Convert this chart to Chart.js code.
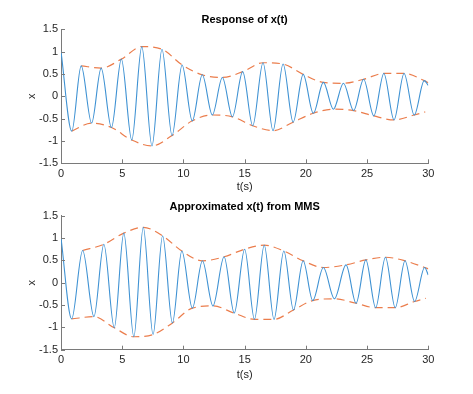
<!DOCTYPE html>
<html>
<head>
<meta charset="utf-8">
<script src="https://cdn.jsdelivr.net/npm/chart.js@4"></script>
<style>
  html, body { margin:0; padding:0; background:#fff; }
  #wrap { position:relative; width:473px; height:394px; }
  .pane { position:absolute; left:0; width:473px; height:197px; }
</style>
</head>
<body>
<div id="wrap">
  <div class="pane" style="top:0"><canvas id="c1" width="473" height="197"></canvas></div>
  <div class="pane" style="top:197px"><canvas id="c2" width="473" height="197"></canvas></div>
</div>
<script>
// ---------- data ----------
const xTickValues = [0, 5, 10, 15, 20, 25, 30];
const xTickLabels = ['0', '5', '10', '15', '20', '25', '30'];
const yTickValues = [-1.5, -1, -0.5, 0, 0.5, 1, 1.5];
const yTickLabels = ['-1.5', '-1', '-0.5', '0', '0.5', '1', '1.5'];

// Top plot: Response of x(t) — successive peaks and troughs (t, x)
const topT = [0, 0.88, 1.65, 2.5, 3.28, 4.12, 4.93, 5.78, 6.6, 7.43, 8.25, 9.07, 9.89, 10.72, 11.54, 12.36, 13.18, 14.0, 14.84, 15.66, 16.5, 17.32, 18.14, 18.96, 19.78, 20.61, 21.43, 22.25, 23.07, 23.9, 24.72, 25.55, 26.37, 27.2, 28.02, 28.85, 29.67, 30];
const topX = [1.00, -0.78, 0.68, -0.60, 0.63, -0.70, 0.83, -0.98, 1.11, -1.11, 1.05, -0.88, 0.70, -0.55, 0.48, -0.42, 0.42, -0.46, 0.55, -0.66, 0.75, -0.77, 0.72, -0.58, 0.49, -0.38, 0.31, -0.29, 0.29, -0.32, 0.38, -0.44, 0.51, -0.53, 0.51, -0.42, 0.35, 0.24];
const topUpperT = [1.65, 3.28, 4.93, 6.6, 8.25, 9.89, 11.54, 13.18, 14.84, 16.5, 18.14, 19.78, 21.43, 23.07, 24.72, 26.37, 28.02, 29.67, 30];
const topUpperX = [0.68, 0.63, 0.83, 1.11, 1.05, 0.70, 0.48, 0.42, 0.55, 0.75, 0.72, 0.49, 0.31, 0.29, 0.38, 0.51, 0.51, 0.35, 0.30];
const topLowerT = [0.88, 2.5, 4.12, 5.78, 7.43, 9.07, 10.72, 12.36, 14.0, 15.66, 17.32, 18.96, 20.61, 22.25, 23.9, 25.55, 27.2, 28.85, 29.75];
const topLowerX = [-0.78, -0.60, -0.70, -0.98, -1.11, -0.88, -0.55, -0.42, -0.46, -0.66, -0.77, -0.58, -0.38, -0.29, -0.32, -0.44, -0.53, -0.42, -0.35];

// Bottom plot: Approximated x(t) from MMS — successive peaks and troughs (t, x)
const botT = [0, 0.87, 1.77, 2.69, 3.5, 4.35, 5.13, 5.95, 6.72, 7.52, 8.3, 9.1, 9.87, 10.73, 11.55, 12.41, 13.32, 14.15, 15.0, 15.8, 16.6, 17.4, 18.2, 18.99, 19.78, 20.56, 21.43, 22.33, 23.28, 24.1, 24.9, 25.7, 26.5, 27.3, 28.1, 28.88, 29.7, 30];
const botX = [1.00, -0.81, 0.72, -0.76, 0.86, -1.01, 1.11, -1.21, 1.24, -1.16, 1.05, -0.90, 0.71, -0.57, 0.49, -0.52, 0.58, -0.68, 0.75, -0.82, 0.84, -0.82, 0.71, -0.61, 0.49, -0.40, 0.34, -0.36, 0.40, -0.46, 0.51, -0.56, 0.57, -0.56, 0.49, -0.42, 0.34, 0.17];
const botUpperT = [1.77, 3.5, 5.13, 6.72, 8.3, 9.87, 11.55, 13.32, 15.0, 16.6, 18.2, 19.78, 21.43, 23.28, 24.9, 26.5, 28.1, 29.7, 30];
const botUpperX = [0.72, 0.86, 1.11, 1.24, 1.05, 0.71, 0.49, 0.58, 0.75, 0.84, 0.71, 0.49, 0.34, 0.40, 0.51, 0.57, 0.49, 0.34, 0.31];
const botLowerT = [0.87, 2.69, 4.35, 5.95, 7.52, 9.1, 10.73, 12.41, 14.15, 15.8, 17.4, 18.99, 20.56, 22.33, 24.1, 25.7, 27.3, 28.88, 29.8];
const botLowerX = [-0.81, -0.76, -1.01, -1.21, -1.16, -0.90, -0.57, -0.52, -0.68, -0.82, -0.82, -0.61, -0.40, -0.36, -0.46, -0.56, -0.56, -0.42, -0.35];

// ---------- helpers ----------
function pts(ts, xs) { return ts.map((t, i) => ({ x: t, y: xs[i] })); }

const innerTicks = {
  id: 'innerTicks',
  afterDraw(chart) {
    const { ctx, chartArea: a, scales: { x, y } } = chart;
    ctx.save();
    ctx.strokeStyle = '#7a7a7a';
    ctx.lineWidth = 1;
    ctx.beginPath();
    x.ticks.forEach(t => {
      const px = Math.round(x.getPixelForValue(t.value)) + 0.5;
      ctx.moveTo(px, a.bottom); ctx.lineTo(px, a.bottom - 4);
    });
    y.ticks.forEach(t => {
      const py = Math.round(y.getPixelForValue(t.value)) + 0.5;
      ctx.moveTo(a.left, py); ctx.lineTo(a.left + 4, py);
    });
    ctx.stroke();
    ctx.restore();
  }
};

const FONT = "'Liberation Sans', Arial, Helvetica, sans-serif";
const BLUE = '#3f92d3';
const ORANGE = '#eb7d4c';

function makeChart(id, title, sig, up, lo, cfg) {
  return new Chart(document.getElementById(id), {
    type: 'line',
    data: {
      datasets: [
        { data: sig, borderColor: BLUE, borderWidth: 1.1, pointRadius: 0, cubicInterpolationMode: 'monotone' },
        { data: up, borderColor: ORANGE, borderWidth: 1.2, borderDash: [8, 5], pointRadius: 0, cubicInterpolationMode: 'monotone' },
        { data: lo, borderColor: ORANGE, borderWidth: 1.2, borderDash: [8, 5], pointRadius: 0, cubicInterpolationMode: 'monotone' }
      ]
    },
    options: {
      responsive: false,
      animation: false,
      events: [],
      layout: { padding: { left: 0, right: 44.7, top: 0, bottom: 0 } },
      plugins: {
        legend: { display: false },
        tooltip: { enabled: false },
        title: {
          display: true, text: title, fullSize: false, color: '#000',
          font: { family: FONT, size: 11, weight: 'bold', lineHeight: 1.2 },
          padding: { top: cfg.titleTop, bottom: cfg.titleBottom }
        }
      },
      scales: {
        x: {
          type: 'linear', min: 0, max: 30,
          afterBuildTicks: s => { s.ticks = xTickValues.map(v => ({ value: v })); },
          afterFit: s => { s.height = cfg.xHeight; },
          grid: { display: false, drawTicks: false },
          border: { display: true, color: '#7a7a7a', width: 1 },
          ticks: {
            color: '#262626', padding: 4, maxRotation: 0,
            font: { family: FONT, size: 11 },
            callback: (v) => xTickLabels[xTickValues.indexOf(v)]
          },
          title: {
            display: true, text: 't(s)', color: '#262626',
            font: { family: FONT, size: 11, lineHeight: 1.2 },
            padding: { top: 0, bottom: cfg.xTitlePad }
          }
        },
        y: {
          min: -1.5, max: 1.5,
          afterBuildTicks: s => { s.ticks = yTickValues.map(v => ({ value: v })); },
          afterFit: s => { s.width = 61; },
          grid: { display: false, drawTicks: false },
          border: { display: true, color: '#7a7a7a', width: 1 },
          ticks: {
            color: '#262626', padding: 3,
            font: { family: FONT, size: 11 },
            callback: (v) => yTickLabels[yTickValues.indexOf(v)]
          },
          title: {
            display: true, text: 'x', color: '#262626',
            font: { family: FONT, size: 11, lineHeight: 1.2 },
            padding: { top: 25, bottom: 0 }
          }
        }
      }
    },
    plugins: [innerTicks]
  });
}

makeChart('c1', 'Response of x(t)',
  pts(topT, topX), pts(topUpperT, topUpperX), pts(topLowerT, topLowerX),
  { titleTop: 13, titleBottom: 3, xHeight: 33.7, xTitlePad: 3.4 });

makeChart('c2', 'Approximated x(t) from MMS',
  pts(botT, botX), pts(botUpperT, botUpperX), pts(botLowerT, botLowerX),
  { titleTop: 3, titleBottom: 2.5, xHeight: 44.3, xTitlePad: 12.4 });
</script>
</body>
</html>
